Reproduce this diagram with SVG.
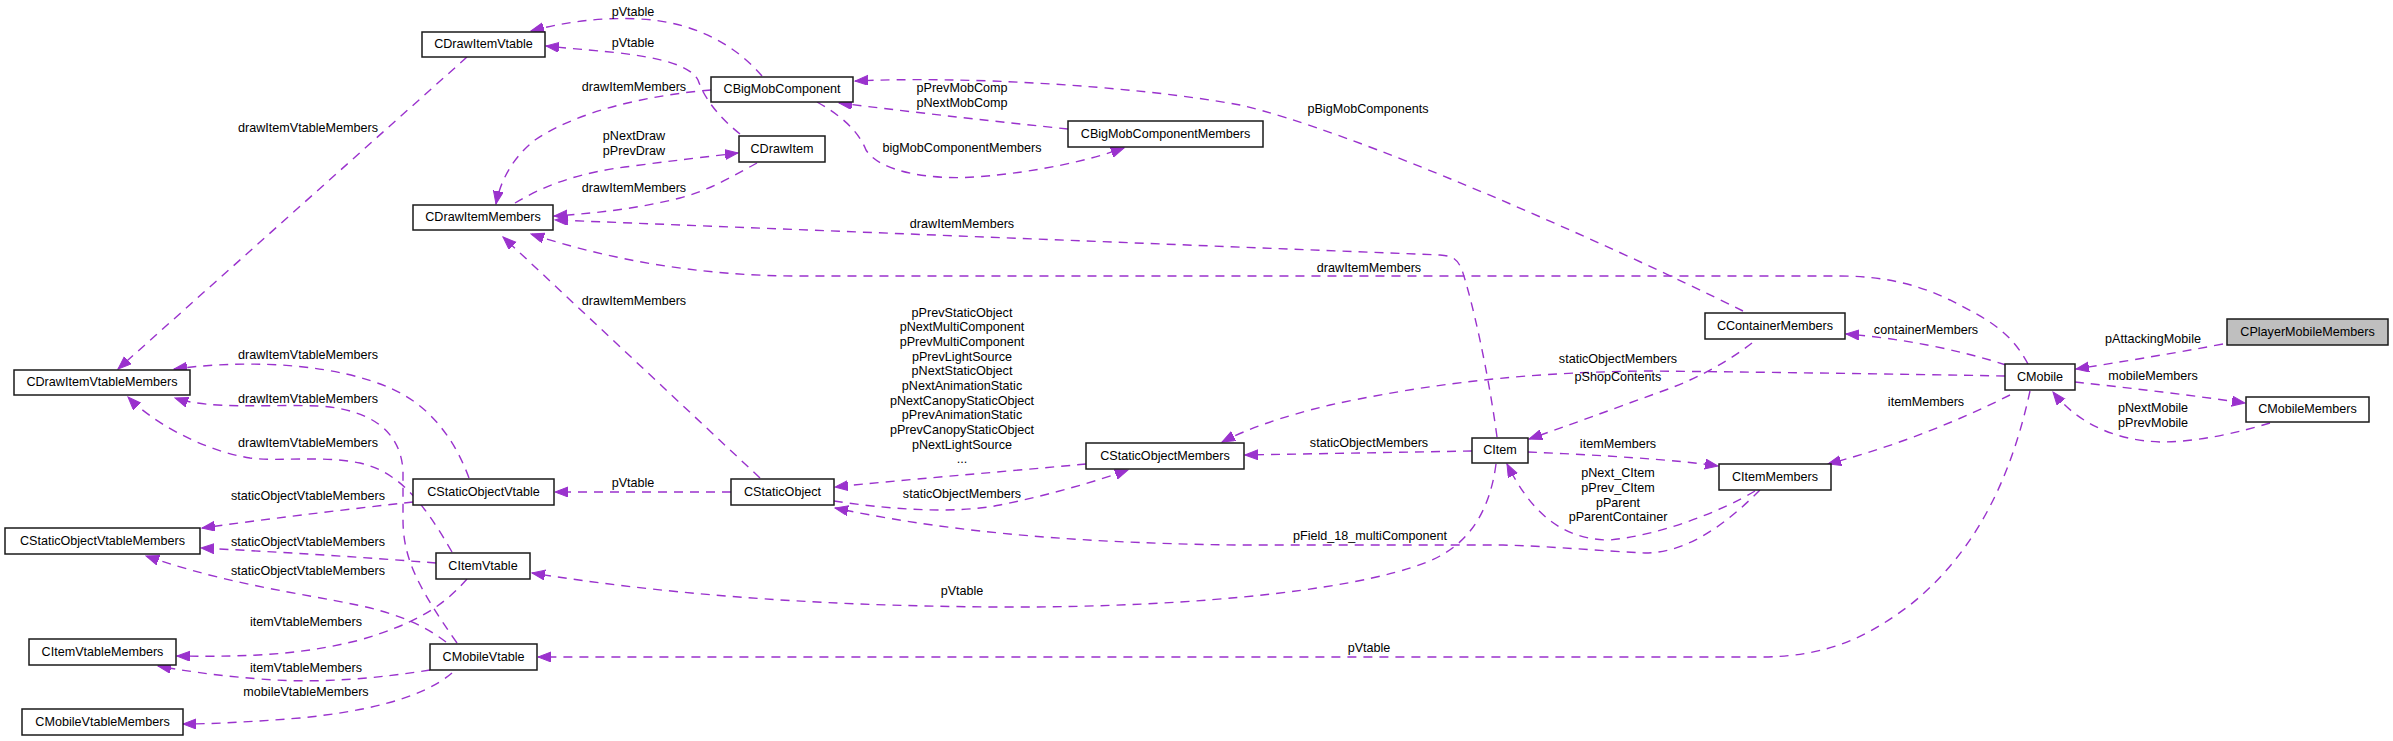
<svg xmlns="http://www.w3.org/2000/svg" width="2393" height="741" viewBox="0 0 2393 741">
<defs>
<style>
.node rect{fill:#fff;stroke:#1a1a1a;stroke-width:1.5}
.node.root rect{fill:#bfbfbf}
text{font-family:"Liberation Sans",Arial,sans-serif;font-size:12.6px;fill:#000;text-anchor:middle}
.edge path{fill:none;stroke:#9a32cd;stroke-width:1.4;stroke-dasharray:9,7;marker-end:url(#ah)}
</style>
<marker id="ah" markerUnits="userSpaceOnUse" markerWidth="14" markerHeight="11" refX="13" refY="5" orient="auto"><path d="M0,0 L13,5 L0,10 z" fill="#9a32cd" stroke="#9a32cd" stroke-width="1"/></marker>
</defs>
<rect width="2393" height="741" fill="#fff"/>
<g id="edges">
<g class="edge" id="e1"><path d="M762,76 C740,50 700,22 640,19 C600,17 565,22 531,31"/><text x="633" y="16">pVtable</text></g>
<g class="edge" id="e2"><path d="M740,134 C720,118 705,100 698,80 C690,65 660,58 620,53 C590,50 565,48 546,46"/><text x="633" y="47">pVtable</text></g>
<g class="edge" id="e3"><path d="M711,90 C650,95 580,110 535,140 C512,158 500,182 496,204"/><text x="634" y="91">drawItemMembers</text></g>
<g class="edge" id="e4"><path d="M515,203 C545,185 580,172 633,166 C670,161 705,157 738,153"/><text x="634" y="140">pNextDraw</text><text x="634" y="155">pPrevDraw</text></g>
<g class="edge" id="e5"><path d="M757,163 C735,175 710,190 680,198 C640,208 600,213 554,216"/><text x="634" y="192">drawItemMembers</text></g>
<g class="edge" id="e6"><path d="M1497,437 C1488,370 1472,300 1462,270 C1457,258 1452,256 1440,255 L555,220"/><text x="962" y="228">drawItemMembers</text></g>
<g class="edge" id="e7"><path d="M2028,364 C2010,330 1985,318 1950,300 C1915,283 1880,276 1840,276 L800,276 C700,276 610,260 531,234"/><text x="1369" y="272">drawItemMembers</text></g>
<g class="edge" id="e8"><path d="M760,478 L503,237"/><text x="634" y="305">drawItemMembers</text></g>
<g class="edge" id="e9"><path d="M817,102 C840,115 858,130 866,150 C880,172 930,180 975,177 C1040,172 1090,160 1124,148"/><text x="962" y="152">bigMobComponentMembers</text></g>
<g class="edge" id="e10"><path d="M1068,129 C1000,122 920,113 839,103"/><text x="962" y="92">pPrevMobComp</text><text x="962" y="107">pNextMobComp</text></g>
<g class="edge" id="e11"><path d="M1743,311 C1600,240 1350,130 1240,105 C1130,85 960,76 855,81"/><text x="1368" y="113">pBigMobComponents</text></g>
<g class="edge" id="e12"><path d="M2005,376 C1900,374 1750,372 1650,371 C1500,372 1400,390 1330,405 C1280,417 1245,430 1222,442"/><text x="1618" y="363">staticObjectMembers</text></g>
<g class="edge" id="e13"><path d="M1752,343 C1730,360 1700,378 1660,392 C1610,410 1570,425 1529,439"/><text x="1618" y="381">pShopContents</text></g>
<g class="edge" id="e14"><path d="M1472,451 L1245,455"/><text x="1369" y="447">staticObjectMembers</text></g>
<g class="edge" id="e15"><path d="M1528,452 C1600,455 1680,460 1718,466"/><text x="1618" y="448">itemMembers</text></g>
<g class="edge" id="e16"><path d="M1755,491 C1720,512 1660,535 1610,540 C1560,540 1530,510 1507,464"/><text x="1618" y="477">pNext_CItem</text><text x="1618" y="492">pPrev_CItem</text><text x="1618" y="507">pParent</text><text x="1618" y="521">pParentContainer</text></g>
<g class="edge" id="e17"><path d="M1760,490 C1730,520 1690,553 1645,553 C1600,551 1550,546 1500,545 L1240,545 C1050,543 930,528 835,508"/><text x="1370" y="540">pField_18_multiComponent</text></g>
<g class="edge" id="e18"><path d="M1496,464 C1490,510 1470,540 1440,556 C1380,588 1200,608 1000,607 C800,606 650,592 532,573"/><text x="962" y="595">pVtable</text></g>
<g class="edge" id="e19"><path d="M2030,391 C2015,460 1985,545 1910,605 C1870,635 1830,657 1760,657 L538,657"/><text x="1369" y="652">pVtable</text></g>
<g class="edge" id="e20"><path d="M2223,344 C2170,354 2120,362 2076,369"/><text x="2153" y="343">pAttackingMobile</text></g>
<g class="edge" id="e21"><path d="M2075,382 C2130,388 2190,395 2245,403"/><text x="2153" y="380">mobileMembers</text></g>
<g class="edge" id="e22"><path d="M2270,423 C2240,432 2200,442 2160,442 C2110,440 2075,420 2053,392"/><text x="2153" y="412">pNextMobile</text><text x="2153" y="427">pPrevMobile</text></g>
<g class="edge" id="e23"><path d="M2006,365 C1960,350 1900,338 1846,334"/><text x="1926" y="334">containerMembers</text></g>
<g class="edge" id="e24"><path d="M2010,395 C1960,420 1900,445 1828,464"/><text x="1926" y="406">itemMembers</text></g>
<g class="edge" id="e25"><path d="M467,57 L118,369"/><text x="308" y="132">drawItemVtableMembers</text></g>
<g class="edge" id="e26"><path d="M469,478 C455,440 430,405 390,388 C340,366 260,358 174,369"/><text x="308" y="359">drawItemVtableMembers</text></g>
<g class="edge" id="e27"><path d="M452,552 C425,505 400,472 360,463 C320,455 280,462 250,458 C200,450 150,420 128,397"/><text x="308" y="447">drawItemVtableMembers</text></g>
<g class="edge" id="e28"><path d="M457,643 C420,590 403,560 403,520 L403,470 C400,430 370,410 320,406 C270,404 210,410 175,398"/><text x="308" y="403">drawItemVtableMembers</text></g>
<g class="edge" id="e29"><path d="M413,502 C340,510 260,520 202,528"/><text x="308" y="500">staticObjectVtableMembers</text></g>
<g class="edge" id="e30"><path d="M436,563 C360,557 280,552 201,548"/><text x="308" y="546">staticObjectVtableMembers</text></g>
<g class="edge" id="e31"><path d="M446,642 C420,622 390,612 357,605 C300,593 230,585 146,556"/><text x="308" y="575">staticObjectVtableMembers</text></g>
<g class="edge" id="e32"><path d="M467,579 C440,610 410,625 360,640 C300,655 250,657 177,656"/><text x="306" y="626">itemVtableMembers</text></g>
<g class="edge" id="e33"><path d="M430,670 C380,678 320,684 260,679 C210,675 180,670 158,666"/><text x="306" y="672">itemVtableMembers</text></g>
<g class="edge" id="e34"><path d="M452,673 C420,700 360,712 300,718 C250,722 210,724 183,724"/><text x="306" y="696">mobileVtableMembers</text></g>
<g class="edge" id="e35"><path d="M731,492 L555,492"/><text x="633" y="487">pVtable</text></g>
<g class="edge" id="e36"><path d="M1086,464 C1000,472 900,480 835,487"/><text x="962" y="316.7">pPrevStaticObject<tspan x="962" dy="14.65">pNextMultiComponent</tspan><tspan x="962" dy="14.65">pPrevMultiComponent</tspan><tspan x="962" dy="14.65">pPrevLightSource</tspan><tspan x="962" dy="14.65">pNextStaticObject</tspan><tspan x="962" dy="14.65">pNextAnimationStatic</tspan><tspan x="962" dy="14.65">pNextCanopyStaticObject</tspan><tspan x="962" dy="14.65">pPrevAnimationStatic</tspan><tspan x="962" dy="14.65">pPrevCanopyStaticObject</tspan><tspan x="962" dy="14.65">pNextLightSource</tspan><tspan x="962" dy="14.65">...</tspan></text></g>
<g class="edge" id="e37"><path d="M834,501 C880,508 950,515 1000,505 C1050,495 1100,480 1128,470"/><text x="962" y="498">staticObjectMembers</text></g>
</g>
<g id="nodes">
<g class="node" id="n_CDrawItemVtable"><rect x="422" y="32" width="123" height="25"/><text x="483.5" y="48">CDrawItemVtable</text></g>
<g class="node" id="n_CBigMobComponent"><rect x="711" y="77" width="142" height="25"/><text x="782" y="93">CBigMobComponent</text></g>
<g class="node" id="n_CDrawItem"><rect x="739" y="136" width="86" height="26"/><text x="782" y="152.5">CDrawItem</text></g>
<g class="node" id="n_CDrawItemMembers"><rect x="413" y="205" width="140" height="25"/><text x="483" y="221">CDrawItemMembers</text></g>
<g class="node" id="n_CBigMobComponentMembers"><rect x="1068" y="121" width="195" height="26"/><text x="1165.5" y="137.5">CBigMobComponentMembers</text></g>
<g class="node" id="n_CDrawItemVtableMembers"><rect x="14" y="370" width="176" height="25"/><text x="102" y="386">CDrawItemVtableMembers</text></g>
<g class="node" id="n_CStaticObjectVtable"><rect x="413" y="479" width="141" height="26"/><text x="483.5" y="495.5">CStaticObjectVtable</text></g>
<g class="node" id="n_CStaticObjectVtableMembers"><rect x="5" y="528" width="195" height="26"/><text x="102.5" y="544.5">CStaticObjectVtableMembers</text></g>
<g class="node" id="n_CItemVtable"><rect x="436" y="553" width="94" height="26"/><text x="483" y="569.5">CItemVtable</text></g>
<g class="node" id="n_CItemVtableMembers"><rect x="29" y="639" width="147" height="26"/><text x="102.5" y="655.5">CItemVtableMembers</text></g>
<g class="node" id="n_CMobileVtable"><rect x="430" y="644" width="107" height="26"/><text x="483.5" y="660.5">CMobileVtable</text></g>
<g class="node" id="n_CMobileVtableMembers"><rect x="22" y="709" width="161" height="26"/><text x="102.5" y="725.5">CMobileVtableMembers</text></g>
<g class="node" id="n_CStaticObject"><rect x="731" y="479" width="103" height="26"/><text x="782.5" y="495.5">CStaticObject</text></g>
<g class="node" id="n_CStaticObjectMembers"><rect x="1086" y="443" width="158" height="26"/><text x="1165" y="459.5">CStaticObjectMembers</text></g>
<g class="node" id="n_CItem"><rect x="1472" y="438" width="56" height="25"/><text x="1500" y="454">CItem</text></g>
<g class="node" id="n_CContainerMembers"><rect x="1705" y="313" width="140" height="26"/><text x="1775" y="329.5">CContainerMembers</text></g>
<g class="node" id="n_CItemMembers"><rect x="1719" y="464" width="112" height="26"/><text x="1775" y="480.5">CItemMembers</text></g>
<g class="node" id="n_CMobile"><rect x="2005" y="364" width="70" height="26"/><text x="2040" y="380.5">CMobile</text></g>
<g class="node root" id="n_CPlayerMobileMembers"><rect x="2227" y="319" width="161" height="26"/><text x="2307.5" y="335.5">CPlayerMobileMembers</text></g>
<g class="node" id="n_CMobileMembers"><rect x="2246" y="397" width="123" height="25"/><text x="2307.5" y="413">CMobileMembers</text></g>
</g>
</svg>
